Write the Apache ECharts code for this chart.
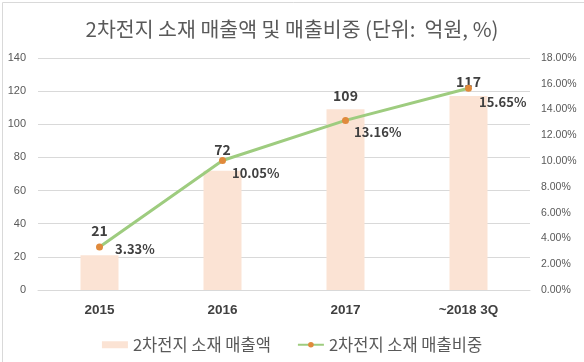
<!DOCTYPE html>
<html><head><meta charset="utf-8">
<script src="https://cdn.jsdelivr.net/npm/echarts@6/dist/echarts.min.js"></script>
<style>html,body{margin:0;padding:0;background:#fff}#c{width:584px;height:362px}</style>
</head><body><div id="c"></div>
<script>
const categories = ['2015', '2016', '2017', '~2018 3Q'];
const salesValues = [21, 72, 109, 117];
const shareValues = [3.33, 10.05, 13.16, 15.65];
const leftTicks = [0, 20, 40, 60, 80, 100, 120, 140];
const rightTicks = [0, 2, 4, 6, 8, 10, 12, 14, 16, 18];
const salesName = '2차전지 소재 매출액';
const shareName = '2차전지 소재 매출비중';

const barLabelDist = [18, 14, 7, 7];
const lineLabelOff = [[12, 2], [6, 13], [5, 12], [7, 14]];

const font = '"Noto Sans CJK KR", "Noto Sans", sans-serif';
const chart = echarts.init(document.getElementById('c'));
chart.setOption({
  animation: false,
  title: {
    text: '2차전지 소재 매출액 및 매출비중 (단위:  억원, %)',
    left: 'center', top: 14,
    textStyle: {fontFamily: font, fontSize: 20.5, fontWeight: 'normal', color: '#595959'}
  },
  grid: {left: 38, right: 54, top: 58, bottom: 72},
  legend: {
    bottom: 4, left: 'center', itemGap: 26,
    textStyle: {fontFamily: font, fontSize: 16.5, color: '#595959'},
    data: [
      {name: salesName, icon: 'rect', itemStyle: {color: '#FBE3D4'}},
      {name: shareName}
    ],
    itemWidth: 26, itemHeight: 7
  },
  xAxis: {
    type: 'category', data: categories,
    axisLine: {lineStyle: {color: '#D9D9D9'}},
    axisTick: {show: false},
    axisLabel: {fontFamily: 'Liberation Sans, sans-serif', fontSize: 13.5, fontWeight: 'bold', color: '#404040', margin: 13}
  },
  yAxis: [{
    type: 'value', min: 0, max: 140, interval: 20,
    axisLabel: {fontFamily: 'Liberation Sans, sans-serif', fontSize: 11, color: '#595959', margin: 12,
      formatter: v => leftTicks.includes(v) ? String(v) : ''},
    splitLine: {lineStyle: {color: '#D9D9D9'}},
    axisLine: {show: false}, axisTick: {show: false}
  }, {
    type: 'value', min: 0, max: 18, interval: 2,
    axisLabel: {fontFamily: 'Liberation Sans, sans-serif', fontSize: 10.5, color: '#595959', margin: 11,
      formatter: v => rightTicks.includes(v) ? v.toFixed(2) + '%' : ''},
    splitLine: {show: false},
    axisLine: {show: false}, axisTick: {show: false}
  }],
  series: [{
    name: salesName, type: 'bar', barWidth: 38, yAxisIndex: 0,
    itemStyle: {color: '#FBE3D4'},
    data: salesValues.map((v, i) => ({value: v, label: {distance: barLabelDist[i]}})),
    label: {show: true, position: 'top', fontFamily: font, fontSize: 14, fontWeight: 'bold', color: '#404040'},
    z: 1
  }, {
    name: shareName, type: 'line', yAxisIndex: 1,
    lineStyle: {color: '#9ECC7F', width: 3},
    itemStyle: {color: '#E08A3C', borderWidth: 0},
    symbol: 'circle', symbolSize: 7,
    data: shareValues.map((v, i) => ({value: v, label: {offset: lineLabelOff[i]}})),
    label: {show: true, position: 'right', distance: 0, fontFamily: font, fontSize: 13, fontWeight: 'bold', color: '#404040',
      formatter: p => p.value.toFixed(2) + '%'},
    z: 3
  }],
  graphic: [{type: 'rect', left: 0, top: 0, shape: {width: 583, height: 361},
    style: {fill: 'none', stroke: '#D9D9D9', lineWidth: 1}, silent: true}]
});
</script></body></html>
